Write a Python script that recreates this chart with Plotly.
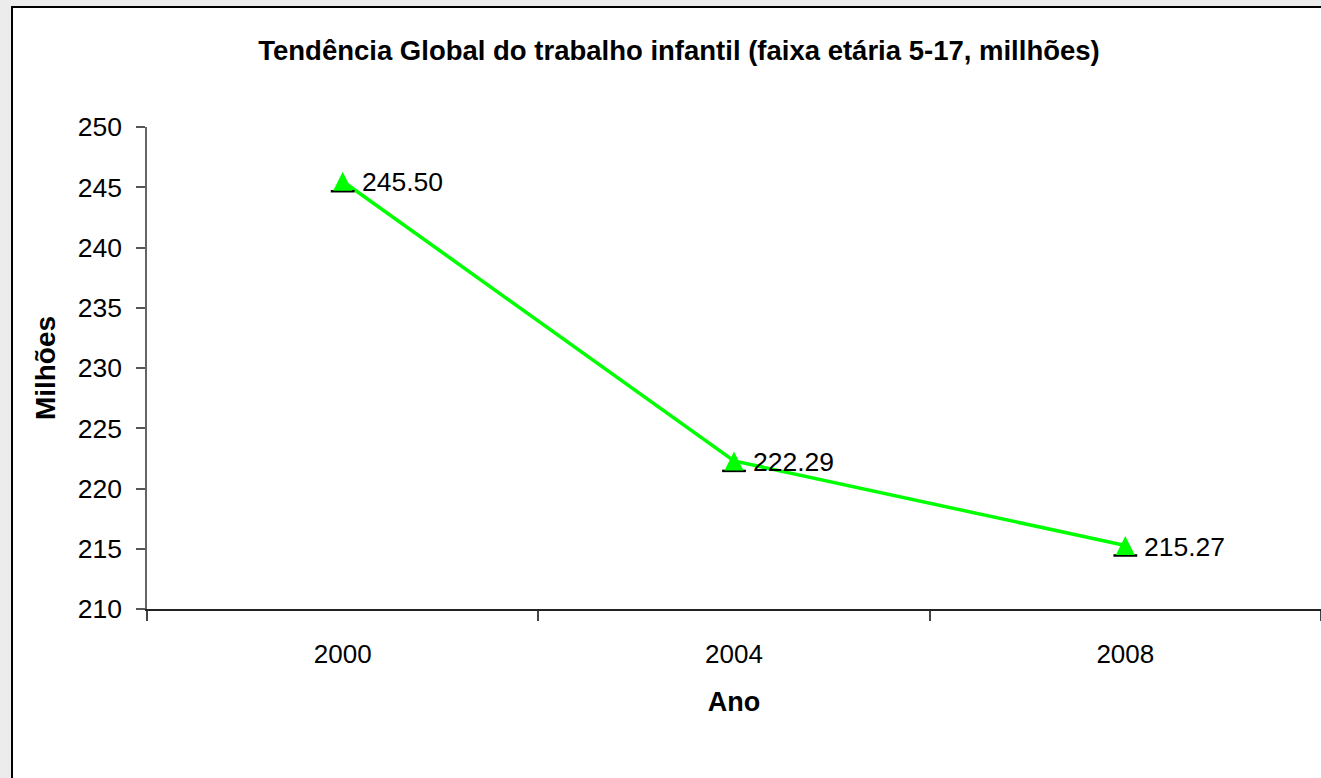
import plotly.graph_objects as go

anos = ["2000", "2004", "2008"]
milhoes = [245.50, 222.29, 215.27]
y_ticks = [210, 215, 220, 225, 230, 235, 240, 245, 250]

FONT = "Arial, 'Liberation Sans', sans-serif"
W, H = 1321, 778
L, R, T, B = 147, 0, 127, 169

fig = go.Figure()

fig.add_trace(go.Scatter(
    x=anos, y=milhoes, mode="lines",
    line=dict(color="#00ff00", width=3.5),
    hoverinfo="skip", showlegend=False,
))
# black base under each triangle
fig.add_trace(go.Scatter(
    x=anos, y=milhoes, mode="markers",
    marker=dict(symbol="line-ew", size=17, angle=0, standoff=10,
                line=dict(color="black", width=2.5)),
    hoverinfo="skip", showlegend=False,
))
# green triangle (pointing up, centred on the point)
fig.add_trace(go.Scatter(
    x=anos, y=milhoes, mode="markers",
    marker=dict(symbol="arrow-down", size=19, angle=180, color="#00ff00",
                standoff=9.5, line=dict(width=0)),
    showlegend=False,
))

for i, v in enumerate(milhoes):
    fig.add_annotation(
        x=i, y=v, xref="x", yref="y", text=f"{v:.2f}", showarrow=False,
        xanchor="left", yanchor="middle", xshift=17, yshift=-1,
        font=dict(family=FONT, size=26.5, color="black"),
    )

pw = W - L - R
ph = H - T - B
fig.add_shape(
    type="rect", xref="paper", yref="paper", layer="below",
    x0=(12 - L) / pw, x1=(W + 10 - L) / pw,
    y0=-(H + 10 - (H - B)) / ph, y1=((H - B) - 7) / ph,
    fillcolor="white", line=dict(color="black", width=2),
)

fig.update_layout(
    width=W, height=H,
    margin=dict(l=L, r=R, t=T, b=B, pad=0),
    paper_bgcolor="#ececec",
    plot_bgcolor="rgba(0,0,0,0)",
    font=dict(family=FONT, color="black"),
    title=dict(
        text="<b>Tendência Global do trabalho infantil (faixa etária 5-17, millhões)</b>",
        x=679 / W, xanchor="center", y=1 - 50 / H, yanchor="middle",
        font=dict(family=FONT, size=27.5, color="black"),
    ),
    xaxis=dict(
        type="category", range=[-0.5, 2.5],
        tickson="boundaries", ticks="outside", ticklen=10, tickwidth=1.5,
        tickcolor="#444", showline=True, linecolor="#222", linewidth=1.5,
        showgrid=False, zeroline=False, ticklabelstandoff=21,
        tickfont=dict(family=FONT, size=26, color="black"),
        title=dict(text="<b>Ano</b>", font=dict(family=FONT, size=27, color="black"),
                   standoff=24),
    ),
    yaxis=dict(
        range=[210, 250], tickvals=y_ticks, ticks="outside", ticklen=9,
        tickwidth=1.5, tickcolor="#555", showline=True, linecolor="#666",
        linewidth=1.5, showgrid=False, zeroline=False, ticklabelstandoff=9,
        tickfont=dict(family=FONT, size=26.5, color="black"),
        title=dict(text="<b>Milhões</b>", font=dict(family=FONT, size=28, color="black"),
                   standoff=14),
    ),
)

fig.write_html(
    "out.html",
    config={"displayModeBar": False},
    post_script="document.body.style.margin='0';document.body.style.background='#ececec';",
)
